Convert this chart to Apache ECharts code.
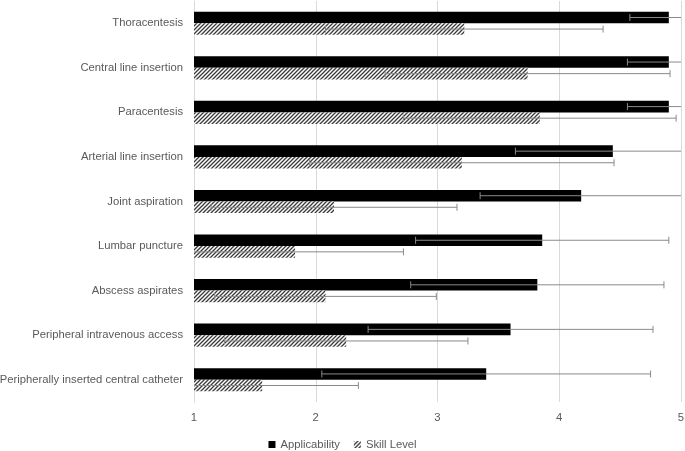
<!DOCTYPE html>
<html><head><meta charset="utf-8">
<script src="https://cdn.jsdelivr.net/npm/echarts@6/dist/echarts.min.js"></script>
<style>html,body{margin:0;padding:0;background:#fff}#c{width:685px;height:451px}</style>
</head><body><div id="c"></div>
<script>
const categories = ['Thoracentesis','Central line insertion','Paracentesis','Arterial line insertion','Joint aspiration','Lumbar puncture','Abscess aspirates','Peripheral intravenous access','Peripherally inserted central catheter'];
const applicability = [4.90, 4.90, 4.90, 4.44, 4.18, 3.86, 3.82, 3.60, 3.40];
const applicabilitySD = [0.32, 0.34, 0.34, 0.80, 0.83, 1.04, 1.04, 1.17, 1.35];
const skill = [3.22, 3.74, 3.84, 3.20, 2.15, 1.83, 2.08, 2.25, 1.56];
const skillSD = [1.14, 1.17, 1.12, 1.25, 1.01, 0.89, 0.91, 1.00, 0.79];
const xTicks = [1, 2, 3, 4, 5];

function hatch(){
  const c = document.createElement('canvas'); c.width = 4; c.height = 4;
  const g = c.getContext('2d');
  g.fillStyle = '#fff'; g.fillRect(0,0,4,4);
  g.strokeStyle = '#3a3a3a'; g.lineWidth = 1.3;
  g.beginPath(); g.moveTo(0,4); g.lineTo(4,0); g.moveTo(-1,1); g.lineTo(1,-1); g.moveTo(3,5); g.lineTo(5,3); g.stroke();
  return {image: c, repeat: 'repeat'};
}
const GAP = 0.48;
function errItem(which){
  return function(params, api){
    const cat = api.value(0), m = api.value(1), sd = api.value(2);
    const band = api.size([0,1])[1];
    const bw = band*(1-GAP)/2;
    const yc = api.coord([m, cat])[1] + (which===0 ? -bw/2 : bw/2);
    const x1 = api.coord([m-sd, cat])[0], x2 = api.coord([m+sd, cat])[0];
    const h = 3.5;
    const st = {stroke:'#8a8a8a', lineWidth:1};
    return {type:'group', children:[
      {type:'line', shape:{x1:x1,y1:yc,x2:x2,y2:yc}, style:st},
      {type:'line', shape:{x1:x1,y1:yc-h,x2:x1,y2:yc+h}, style:st},
      {type:'line', shape:{x1:x2,y1:yc-h,x2:x2,y2:yc+h}, style:st}
    ]};
  };
}
const chart = echarts.init(document.getElementById('c'), null, {renderer:'canvas'});
const font = 'Liberation Sans';
chart.setOption({
  animation:false,
  grid:{left:194, right:4, top:1, bottom:49, containLabel:false, outerBoundsMode:'none'},
  legend:{top:434, left:'center', itemWidth:7, itemHeight:7, itemGap:14, icon:'rect',
    textStyle:{color:'#595959', fontSize:11.25, fontFamily:font},
    data:['Applicability','Skill Level']},
  xAxis:{type:'value', min:xTicks[0], max:xTicks[xTicks.length-1], interval:1,
    axisLine:{show:false}, axisTick:{show:false},
    axisLabel:{color:'#595959', fontSize:11.25, fontFamily:font, margin:10},
    splitLine:{lineStyle:{color:'#d9d9d9'}}},
  yAxis:{type:'category', data:categories, inverse:true,
    axisLine:{show:true, lineStyle:{color:'#d9d9d9'}}, axisTick:{show:false},
    axisLabel:{color:'#595959', fontSize:11.25, fontFamily:font, margin:11}},
  series:[
    {name:'Applicability', type:'bar', data:applicability, barGap:'0%', barCategoryGap:(GAP*100)+'%',
      itemStyle:{color:'#000'}},
    {name:'Skill Level', type:'bar', data:skill, barGap:'0%', barCategoryGap:(GAP*100)+'%',
      itemStyle:{color:hatch()}},
    {type:'custom', clip:true, renderItem:errItem(0), z:5,
      data:applicability.map((v,i)=>[i, v, applicabilitySD[i]])},
    {type:'custom', clip:true, renderItem:errItem(1), z:5,
      data:skill.map((v,i)=>[i, v, skillSD[i]])}
  ]
});
</script></body></html>
